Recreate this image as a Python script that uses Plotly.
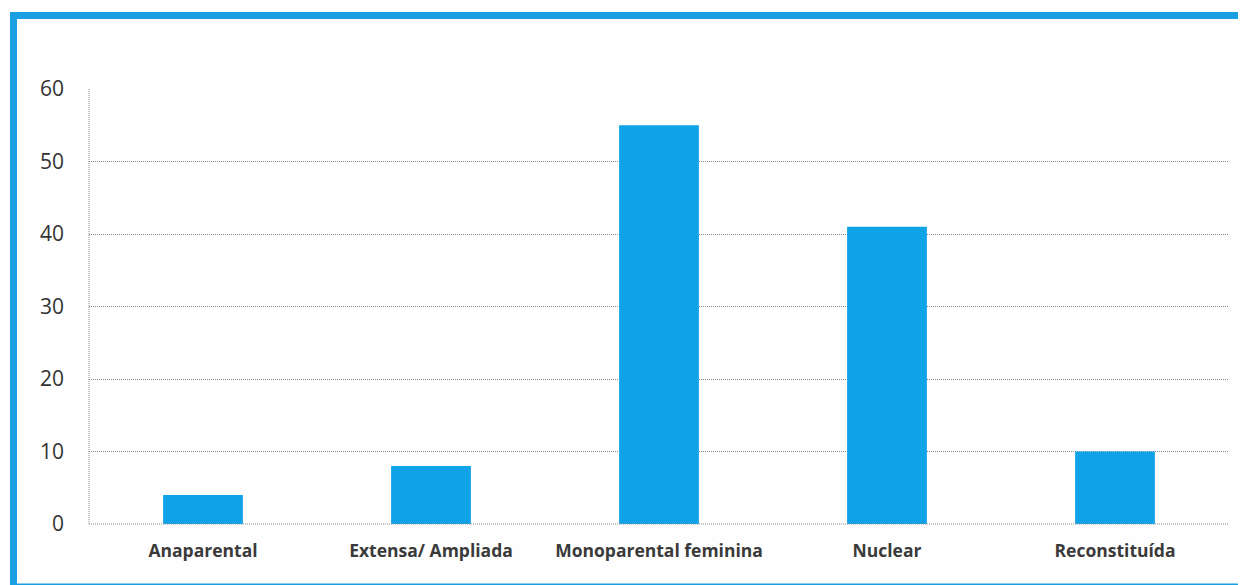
import plotly.graph_objects as go

categories = ["Anaparental", "Extensa/ Ampliada", "Monoparental feminina", "Nuclear", "Reconstituída"]
values = [4, 8, 55, 41, 10]
y_ticks = [0, 10, 20, 30, 40, 50, 60]

OFF = 8  # default page body margin
W, H = 1246 - OFF, 585 - OFF
L, R, T, B = 89 - OFF, 17, 89 - OFF, 61
pw, ph = W - L - R, H - T - B

def px_x(p):
    return (p - OFF - L) / pw

def px_y(p):
    return (H - B - (p - OFF)) / ph

DOT = "1px,1px"

fig = go.Figure()
fig.add_trace(go.Bar(
    x=categories, y=values, width=0.35,
    marker=dict(color="#10A3E8", line=dict(width=0)),
))

fig.update_layout(
    width=W, height=H,
    margin=dict(l=L, r=R, t=T, b=B),
    paper_bgcolor="#FEFEFE", plot_bgcolor="#FEFEFE",
    showlegend=False,
    xaxis=dict(
        showgrid=False, showline=False, zeroline=False,
        tickfont=dict(family="Open Sans", size=17.5, color="#3a3a3a", weight="bold"),
        ticklabelstandoff=14,
    ),
    yaxis=dict(
        range=[0, 60], tickvals=y_ticks,
        showgrid=True, gridcolor="#8a8a8a", griddash=DOT, gridwidth=1,
        zeroline=False, showline=False,
        tickfont=dict(family="Open Sans", size=21, color="#333333"),
        ticklabelstandoff=24,
    ),
    shapes=[
        dict(type="line", xref="paper", yref="paper", x0=0, x1=0, y0=0, y1=1,
             line=dict(color="#8a8a8a", width=1, dash=DOT)),
        dict(type="line", xref="paper", yref="paper", x0=0, x1=1, y0=0, y1=0,
             line=dict(color="#8a8a8a", width=1, dash=DOT)),
        dict(type="rect", xref="paper", yref="paper",
             x0=px_x(13.5), x1=px_x(1255), y0=px_y(587), y1=px_y(15.5),
             line=dict(color="#1A9FE2", width=7)),
    ],
)

fig.write_html("out.html")
